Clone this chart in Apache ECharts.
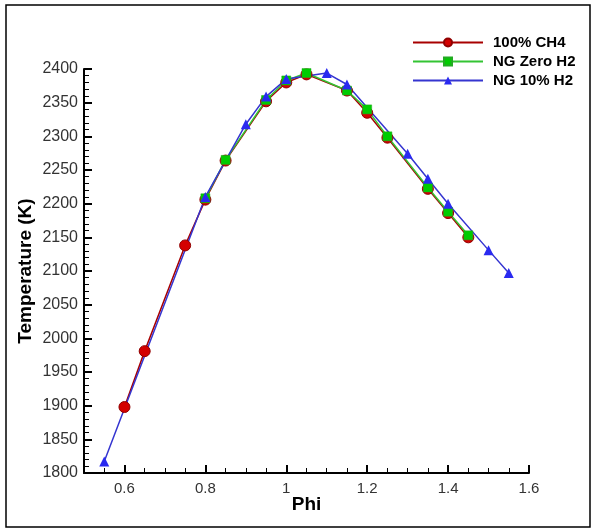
<!DOCTYPE html>
<html>
<head>
<meta charset="utf-8">
<script src="https://cdn.jsdelivr.net/npm/echarts@6/dist/echarts.min.js"></script>
<style>html,body{margin:0;padding:0;background:#fff}#c{width:595px;height:530px}</style>
</head>
<body>
<div id="c"></div>
<script>
var ch4Phi = [0.6, 0.65, 0.75, 0.8, 0.85, 0.95, 1.0, 1.05, 1.15, 1.2, 1.25, 1.35, 1.4, 1.45];
var ch4Temp = [1898, 1981, 2138, 2206, 2264, 2352, 2380, 2392, 2368, 2335, 2298, 2222, 2186, 2150];
var ngZeroPhi = [0.8, 0.85, 0.95, 1.0, 1.05, 1.15, 1.2, 1.25, 1.35, 1.4, 1.45];
var ngZeroTemp = [2208, 2265, 2354, 2383, 2394, 2368, 2340, 2300, 2224, 2188, 2153];
var ng10Phi = [0.55, 0.8, 0.9, 0.95, 1.0, 1.1, 1.15, 1.3, 1.35, 1.4, 1.5, 1.55];
var ng10Temp = [1817, 2210, 2318, 2359, 2385, 2394, 2377, 2274, 2237, 2200, 2131, 2097];
var xTickLabels = [0.6, 0.8, 1.0, 1.2, 1.4, 1.6];
var seriesNames = ['100% CH4', 'NG Zero H2', 'NG 10% H2'];

function pairs(xs, ys) { return xs.map(function (x, i) { return [x, ys[i]]; }); }

var chart = echarts.init(document.getElementById('c'), null, { renderer: 'canvas' });
var fam = 'Liberation Sans, Arial, sans-serif';
chart.setOption({
  animation: false,
  backgroundColor: '#fff',
  graphic: [{
    type: 'rect', shape: { x: 6, y: 5, width: 584, height: 522 },
    style: { fill: 'none', stroke: '#000', lineWidth: 1.5 }, silent: true
  }],
  legend: {
    orient: 'vertical', left: 407, top: 30,
    itemWidth: 70, itemHeight: 10, itemGap: 4,
    textStyle: { fontFamily: fam, fontSize: 15, fontWeight: 'bold', color: '#000', padding: [0, 0, 0, 5] },
    data: seriesNames
  },
  grid: { left: 84, top: 69, right: 66, bottom: 57 },
  xAxis: [{
    type: 'value', min: 0.5, max: 1.6,
    name: 'Phi', nameLocation: 'middle', nameGap: 22, nameMoveOverlap: false,
    nameTextStyle: { fontFamily: fam, fontSize: 19, fontWeight: 'bold', color: '#000' },
    axisLine: { lineStyle: { color: '#000', width: 2 } },
    axisTick: { inside: true, length: 8, lineStyle: { color: '#000', width: 2 }, customValues: xTickLabels },
    axisLabel: { margin: 8, customValues: xTickLabels, fontFamily: fam, fontSize: 15, color: '#333',
      formatter: function (v) { return String(Math.round(v * 10) / 10); } },
    splitLine: { show: false }
  }, {
    type: 'value', min: 0.5, max: 1.6, interval: 0.05, position: 'bottom',
    axisLine: { show: false },
    axisTick: { show: true, inside: true, length: 5, lineStyle: { color: '#000', width: 1 } },
    axisLabel: { show: false },
    splitLine: { show: false }
  }],
  yAxis: {
    type: 'value', min: 1800, max: 2400, interval: 50,
    name: 'Temperature (K)', nameLocation: 'middle', nameGap: 49, nameMoveOverlap: false,
    nameTextStyle: { fontFamily: fam, fontSize: 19, fontWeight: 'bold', color: '#000' },
    axisLine: { show: true, lineStyle: { color: '#000', width: 2 } },
    axisTick: { show: true, inside: true, length: 8, lineStyle: { color: '#000', width: 2 } },
    minorTick: { show: true, splitNumber: 5, length: 5, lineStyle: { color: '#000', width: 1 } },
    axisLabel: { margin: 6, fontFamily: fam, fontSize: 16, color: '#333', formatter: function (v) { return String(v); } },
    splitLine: { show: false }
  },
  series: [{
    name: seriesNames[0], type: 'line', data: pairs(ch4Phi, ch4Temp),
    symbol: 'circle', symbolSize: 11,
    lineStyle: { color: '#a80000', width: 1.5 },
    itemStyle: { color: '#d40000', borderColor: '#900000', borderWidth: 1 }
  }, {
    name: seriesNames[1], type: 'line', data: pairs(ngZeroPhi, ngZeroTemp),
    symbol: 'rect', symbolSize: 9,
    lineStyle: { color: '#33c433', width: 1.5 },
    itemStyle: { color: '#00cc00', borderColor: '#22aa22', borderWidth: 0.5 }
  }, {
    name: seriesNames[2], type: 'line', data: pairs(ng10Phi, ng10Temp),
    symbol: 'triangle', symbolSize: 10,
    lineStyle: { color: '#3535d0', width: 1.5 },
    itemStyle: { color: '#2a2af0', borderColor: '#2a2af0', borderWidth: 0 }
  }]
});
</script>
</body>
</html>
